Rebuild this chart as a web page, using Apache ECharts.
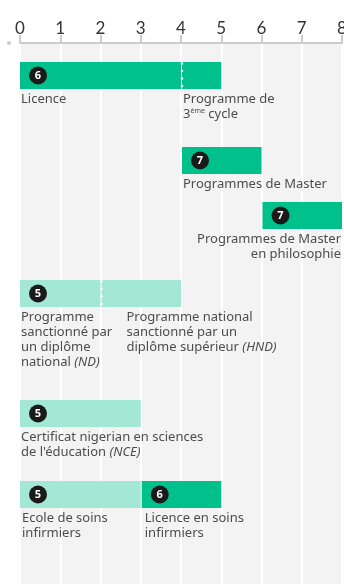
<!DOCTYPE html>
<html><head><meta charset="utf-8">
<script src="https://cdn.jsdelivr.net/npm/echarts@6/dist/echarts.min.js"></script>
<style>html,body{margin:0;padding:0;background:#fff}#c{width:344px;height:584px}</style>
</head><body><div id="c"></div>
<script>
// ---- data ----
const yearTicks = [0, 1, 2, 3, 4, 5, 6, 7, 8];
const programmes = [
  "Licence",
  "Programme de\n3{sup|ème} cycle",
  "Programmes de Master",
  "Programmes de Master\nen philosophie",
  "Programme\nsanctionné par\nun diplôme\nnational {i|(ND)}",
  "Programme national\nsanctionné par un\ndiplôme supérieur {i|(HND)}",
  "Certificat nigerian en sciences\nde l'éducation {i|(NCE)}",
  "Ecole de soins\ninfirmiers",
  "Licence en soins\ninfirmiers"
];
const startYears = [0, 4, 4, 6, 0, 2, 0, 0, 3];
const endYears   = [4, 5, 6, 8, 2, 4, 3, 3, 5];
const iscedLevels = [6, 6, 7, 7, 5, 5, 5, 5, 6];
const rowIndex   = [0, 0, 1, 2, 3, 3, 4, 5, 5];

// ---- layout (pixels) ----
const rowTops = [19, 104, 159, 237, 357, 438];
const barH = 27;
const labelDx = [1, 2, 2, 0, 1, 26, 1, 2, 4];
const labelAlign = ['left','left','left','right','left','left','left','left','left'];

const colorFor = lv => lv >= 6 ? '#00c08b' : '#a2e8d5';
const FONT = 'Noto Sans';

const data = programmes.map((p, i) => [startYears[i], endYears[i], rowIndex[i], iscedLevels[i], i]);

const chart = echarts.init(document.getElementById('c'), null, {renderer: 'canvas'});
chart.setOption({
  animation: false,
  grid: {left: 20, right: 2, top: 43, bottom: 0, show: true, backgroundColor: '#f3f3f3', borderWidth: 0,
    containLabel: false, outerBoundsMode: 'none'},
  xAxis: {
    type: 'value', position: 'top', min: 0, max: 8, interval: 1,
    axisLine: {show: true, lineStyle: {color: '#cccccc', width: 2}},
    axisTick: {show: true, length: 8, lineStyle: {color: '#cccccc', width: 2}},
    axisLabel: {color: '#333', fontSize: 17, fontFamily: 'Lato', margin: 6,
      formatter: v => String(yearTicks[v])},
    splitLine: {show: true, lineStyle: {color: '#ffffff', width: 2}}
  },
  yAxis: {type: 'value', inverse: true, min: 0, max: 541, show: false},
  graphic: [{type: 'circle', shape: {cx: 9, cy: 43, r: 2}, style: {fill: '#cccccc'}}],
  series: [{
    type: 'custom',
    data: data,
    clip: false,
    renderItem: function (params, api) {
      const i = api.value(4);
      const s = api.value(0), e = api.value(1), r = api.value(2), lv = api.value(3);
      const top = rowTops[r];
      const p0 = api.coord([s, top]);
      const p1 = api.coord([e, top + barH]);
      const x0 = s > 0 ? p0[0] + 1 : p0[0];
      const children = [{
        type: 'rect', shape: {x: x0, y: p0[1], width: p1[0] - x0, height: p1[1] - p0[1]},
        style: {fill: colorFor(lv)}
      }];
      const prev = i > 0 && rowIndex[i - 1] === r ? i - 1 : -1;
      const continuation = prev >= 0 && iscedLevels[prev] === lv;
      if (continuation) {
        for (let y = p0[1] + 1.5; y < p1[1]; y += 7.5) {
          children.push({type: 'circle', shape: {cx: p0[0] + 1, cy: y, r: 1.3}, style: {fill: '#ffffff'}});
        }
      } else {
        children.push({type: 'circle', shape: {cx: x0 + 18, cy: (p0[1] + p1[1]) / 2, r: 9}, style: {fill: '#1a1a1a'}});
        children.push({type: 'text', style: {x: x0 + 18, y: (p0[1] + p1[1]) / 2 + 0.5, text: String(lv),
          fill: '#fff', font: 'bold 11px ' + FONT, align: 'center', verticalAlign: 'middle'}});
      }
      const right = labelAlign[i] === 'right';
      children.push({type: 'text', style: {
        x: right ? p1[0] - 1 : p0[0] + labelDx[i], y: p1[1] + 3,
        text: programmes[i], fill: '#4d4d4d', fontFamily: FONT, fontSize: 13, lineHeight: 15,
        align: right ? 'right' : 'left', verticalAlign: 'top',
        rich: {
          sup: {fontSize: 7, fontFamily: FONT, fill: '#4d4d4d', verticalAlign: 'top', lineHeight: 15, padding: [0, 0, 6, 0]},
          i: {fontStyle: 'italic', fontFamily: FONT, fontSize: 13, fill: '#4d4d4d', lineHeight: 15}
        }
      }});
      return {type: 'group', children: children};
    }
  }]
});
</script></body></html>
